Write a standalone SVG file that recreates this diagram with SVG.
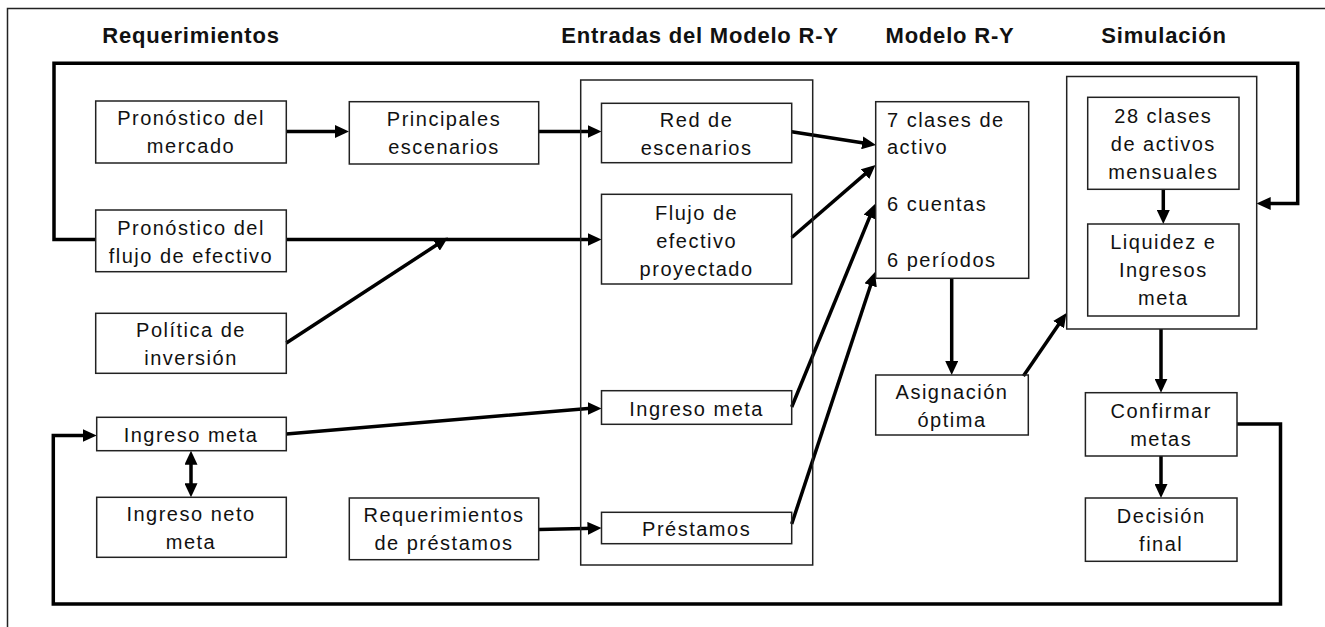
<svg xmlns="http://www.w3.org/2000/svg" width="1325" height="627" viewBox="0 0 1325 627">
<style>
.box{fill:none;stroke:#222;stroke-width:1.5}
.t{font-family:"Liberation Sans",Arial,sans-serif;font-size:20px;letter-spacing:1.5px;fill:#111;text-anchor:middle}
.tl{text-anchor:start}
.h{font-family:"Liberation Sans",Arial,sans-serif;font-size:22px;font-weight:bold;letter-spacing:0.8px;fill:#111;text-anchor:middle}
.c{fill:none;stroke:#000;stroke-width:3.5;stroke-linejoin:miter}
.a{marker-end:url(#ah)}
</style>
<defs>
<marker id="ah" markerUnits="userSpaceOnUse" markerWidth="14" markerHeight="13" refX="8" refY="6.5" orient="auto-start-reverse">
<path d="M0,0 L14,6.5 L0,13 z" fill="#000"/>
</marker>
</defs>
<rect x="0" y="0" width="1325" height="627" fill="#fff"/>
<path d="M7.5,627 V8.5 H1325" fill="none" stroke="#222" stroke-width="1.5"/>

<g id="headers">
<text class="h" x="191" y="43">Requerimientos</text>
<text class="h" x="700" y="43">Entradas del Modelo R-Y</text>
<text class="h" x="950" y="43">Modelo R-Y</text>
<text class="h" x="1164" y="43">Simulación</text>
</g>

<g id="connectors">
<path class="c" d="M95.7,239.5 H54 V63.3 H1297.7 V203.5 H1262.7" marker-end="url(#ah)" stroke-width="4"/>
<path class="c" d="M1237,424 H1280.5 V604 H53.3 V435.5 H90.7" marker-end="url(#ah)" stroke-width="4"/>
<path class="c a" d="M286.3,131.5 H343"/>
<path class="c a" d="M538.7,131.5 H595.5" stroke-width="5.5"/>
<path class="c a" d="M286.3,239.5 H595.5"/>
<path class="c a" d="M286.3,343 L443,240.8"/>
<path class="c a" d="M286.3,434 L588,408.4 L595.5,408.4"/>
<path class="c a" d="M538.7,529.5 L595.5,528.2"/>
<path class="c a" d="M791.7,131.7 L870.1,144.1" stroke-width="4"/>
<path class="c a" d="M791.7,237.5 L871,168.9"/>
<path class="c a" d="M791.7,407 L872.7,209.6"/>
<path class="c a" d="M791.7,524 L873.1,277.7"/>
<path class="c a" d="M951.7,278.3 V369"/>
<path class="c a" d="M1023.4,376 L1063.1,318"/>
<path class="c a" d="M1163.3,189.3 V218"/>
<path class="c a" d="M1161,329 V386.7"/>
<path class="c a" d="M1161,456 V492"/>
<path class="c" d="M191,456.7 V491.3" marker-start="url(#ah)" marker-end="url(#ah)"/>
</g>

<g id="n-mercado">
<rect class="box" x="95.7" y="101" width="190.6" height="62"/>
<text class="t" x="191" y="125">Pronóstico del</text>
<text class="t" x="191" y="153">mercado</text>
</g>
<g id="n-flujo-pron">
<rect class="box" x="95.7" y="210" width="190.6" height="61.7"/>
<text class="t" x="191" y="234.5">Pronóstico del</text>
<text class="t" x="191" y="262.5">flujo de efectivo</text>
</g>
<g id="n-politica">
<rect class="box" x="95.7" y="313.3" width="190.6" height="60"/>
<text class="t" x="191" y="336.8">Política de</text>
<text class="t" x="191" y="364.8">inversión</text>
</g>
<g id="n-ingreso">
<rect class="box" x="96.7" y="417.3" width="189.6" height="33.4"/>
<text class="t" x="191" y="442">Ingreso meta</text>
</g>
<g id="n-neto">
<rect class="box" x="96.7" y="497.3" width="189.6" height="60"/>
<text class="t" x="191" y="520.8">Ingreso neto</text>
<text class="t" x="191" y="548.8">meta</text>
</g>
<g id="n-principales">
<rect class="box" x="349.3" y="101.7" width="189.4" height="62.3"/>
<text class="t" x="444" y="126.3">Principales</text>
<text class="t" x="444" y="154.3">escenarios</text>
</g>
<g id="n-reqprest">
<rect class="box" x="349.3" y="498" width="189.4" height="61.7"/>
<text class="t" x="444" y="522.3">Requerimientos</text>
<text class="t" x="444" y="550.3">de préstamos</text>
</g>

<g id="n-entradas">
<rect class="box" x="580.7" y="80" width="232" height="485"/>
</g>
<g id="n-red">
<rect class="box" x="601.5" y="103.3" width="190.2" height="59.4"/>
<text class="t" x="696.6" y="126.5">Red de</text>
<text class="t" x="696.6" y="154.5">escenarios</text>
</g>
<g id="n-flujo-proy">
<rect class="box" x="601.5" y="194.3" width="190.2" height="89.7"/>
<text class="t" x="696.6" y="219.7">Flujo de</text>
<text class="t" x="696.6" y="247.7">efectivo</text>
<text class="t" x="696.6" y="275.7">proyectado</text>
</g>
<g id="n-ingreso-in">
<rect class="box" x="601.5" y="390.7" width="190.2" height="33.6"/>
<text class="t" x="696.6" y="415.5">Ingreso meta</text>
</g>
<g id="n-prestamos">
<rect class="box" x="601.5" y="512.3" width="190.2" height="31.4"/>
<text class="t" x="696.6" y="536">Préstamos</text>
</g>

<g id="n-modelo">
<rect class="box" x="875.7" y="101.7" width="153" height="176.6"/>
<text class="t tl" x="887" y="126.7">7 clases de</text>
<text class="t tl" x="887" y="154.3">activo</text>
<text class="t tl" x="887" y="210.7">6 cuentas</text>
<text class="t tl" x="887" y="266.7">6 períodos</text>
</g>
<g id="n-asignacion">
<rect class="box" x="875.7" y="375" width="152.6" height="60"/>
<text class="t" x="952" y="398.5">Asignación</text>
<text class="t" x="952" y="426.5">óptima</text>
</g>

<g id="n-simulacion">
<rect class="box" x="1066.7" y="76.5" width="190" height="252.5"/>
</g>
<g id="n-28">
<rect class="box" x="1087.7" y="97.3" width="151.3" height="92"/>
<text class="t" x="1163.3" y="123.3">28 clases</text>
<text class="t" x="1163.3" y="151">de activos</text>
<text class="t" x="1163.3" y="179">mensuales</text>
</g>
<g id="n-liquidez">
<rect class="box" x="1087.7" y="224" width="151.3" height="92"/>
<text class="t" x="1163.3" y="249">Liquidez e</text>
<text class="t" x="1163.3" y="277">Ingresos</text>
<text class="t" x="1163.3" y="305">meta</text>
</g>
<g id="n-confirmar">
<rect class="box" x="1085.4" y="392.7" width="151.6" height="63.3"/>
<text class="t" x="1161.2" y="417.8">Confirmar</text>
<text class="t" x="1161.2" y="445.8">metas</text>
</g>
<g id="n-decision">
<rect class="box" x="1085.4" y="498" width="151.6" height="63.3"/>
<text class="t" x="1161.2" y="523.2">Decisión</text>
<text class="t" x="1161.2" y="551.2">final</text>
</g>
</svg>
